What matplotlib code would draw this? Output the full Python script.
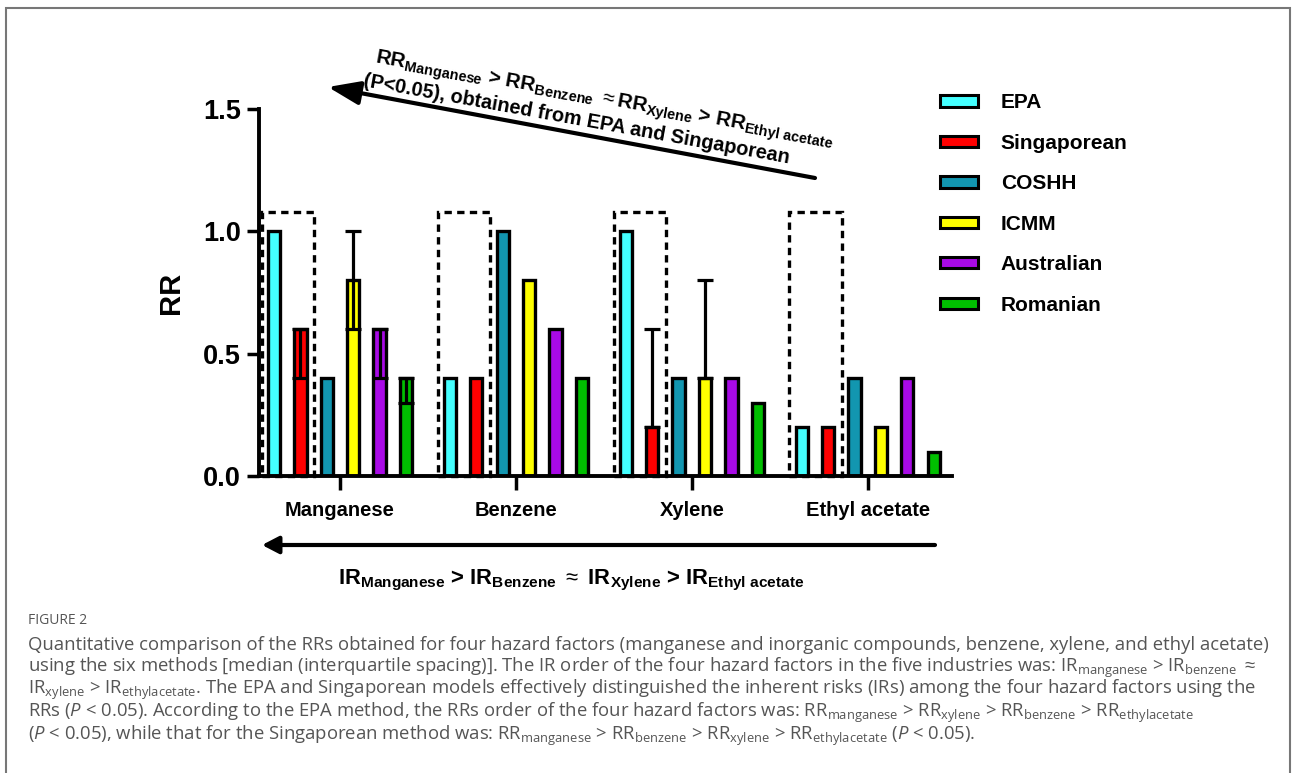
import numpy as np
import matplotlib
matplotlib.use("Agg")
from matplotlib import pyplot as plt
from matplotlib.patches import Patch, Rectangle

plt.rcParams['font.family'] = ['Liberation Sans', 'DejaVu Sans']
plt.rcParams['mathtext.fontset'] = 'custom'
plt.rcParams['mathtext.rm'] = 'Liberation Sans'
plt.rcParams['mathtext.bf'] = 'Liberation Sans:bold'
plt.rcParams['mathtext.sf'] = 'Open Sans'
plt.rcParams['mathtext.it'] = 'Open Sans:italic'

categories = ['Manganese', 'Benzene', 'Xylene', 'Ethyl acetate']
methods = ['EPA', 'Singaporean', 'COSHH', 'ICMM', 'Australian', 'Romanian']
colors = ['#44FFFF', '#FF0000', '#1296B0', '#FFFF00', '#A80AE6', '#00BF00']

# medians, one list per method (order follows categories)
median = {
    'EPA':         [1.0, 0.4, 1.0, 0.2],
    'Singaporean': [0.6, 0.4, 0.2, 0.2],
    'COSHH':       [0.4, 1.0, 0.4, 0.4],
    'ICMM':        [0.8, 0.8, 0.4, 0.2],
    'Australian':  [0.6, 0.6, 0.4, 0.4],
    'Romanian':    [0.4, 0.4, 0.3, 0.1],
}
# interquartile range
q1 = {
    'EPA':         [1.0, 0.4, 1.0, 0.2],
    'Singaporean': [0.4, 0.4, 0.2, 0.2],
    'COSHH':       [0.4, 1.0, 0.4, 0.4],
    'ICMM':        [0.6, 0.8, 0.4, 0.2],
    'Australian':  [0.4, 0.6, 0.4, 0.4],
    'Romanian':    [0.3, 0.4, 0.3, 0.1],
}
q3 = {
    'EPA':         [1.0, 0.4, 1.0, 0.2],
    'Singaporean': [0.6, 0.4, 0.6, 0.2],
    'COSHH':       [0.4, 1.0, 0.4, 0.4],
    'ICMM':        [1.0, 0.8, 0.8, 0.2],
    'Australian':  [0.6, 0.6, 0.4, 0.4],
    'Romanian':    [0.4, 0.4, 0.3, 0.1],
}

fig = plt.figure(figsize=(12.92, 7.73), dpi=100)
ax = fig.add_axes([0.2005, 0.3842, 0.5365, 0.4748])

x = np.arange(len(categories))
step = 0.15
width = 0.07
for i, m in enumerate(methods):
    pos = x + (i - 2.5) * step
    ax.bar(pos, median[m], width, color=colors[i], edgecolor='black', linewidth=2.4, zorder=2)
    lo = np.array(median[m]) - np.array(q1[m])
    hi = np.array(q3[m]) - np.array(median[m])
    has = (np.array(q3[m]) - np.array(q1[m])) > 0
    if has.any():
        ax.errorbar(pos[has], np.array(median[m])[has], yerr=[lo[has], hi[has]], fmt='none',
                    ecolor='black', elinewidth=2.3, capsize=6, capthick=2.3, zorder=3)

# dashed boxes around EPA and Singaporean bars
for c in x:
    ax.add_patch(Rectangle((c - 0.445, 0), 0.3, 1.08, fill=False, edgecolor='black',
                           linestyle=(0, (2.2, 1.6)), linewidth=2.4, zorder=4, clip_on=False))

ax.set_xlim(-0.46, 3.48)
ax.set_ylim(0, 1.5)
ax.set_yticks([0.0, 0.5, 1.0, 1.5])
ax.set_yticklabels(['0.0', '0.5', '1.0', '1.5'], fontsize=19.5, fontweight='bold')
ax.set_xticks(x)
ax.set_xticklabels(categories, fontsize=14.5, fontweight='bold')
ax.tick_params(axis='x', length=10, width=2.5, pad=8)
ax.tick_params(axis='y', length=9, width=2.5, pad=4)
ax.set_ylabel('RR', fontsize=21, fontweight='bold', labelpad=13)
for s in ['top', 'right']:
    ax.spines[s].set_visible(False)
for s in ['left', 'bottom']:
    ax.spines[s].set_linewidth(2.8)

handles = [Patch(facecolor=colors[i], edgecolor='black', linewidth=2.2) for i in range(len(methods))]
ax.legend(handles, methods, loc='upper left', bbox_to_anchor=(930 / 1292, 1 - 83 / 773),
          bbox_transform=fig.transFigure, frameon=False, prop={'size': 15, 'weight': 'bold'},
          handlelength=1.8, handleheight=0.45, handletextpad=1.1, labelspacing=1.03, borderpad=0)

# top arrow and note
ax.annotate('', xy=(328, 773 - 87), xytext=(815, 773 - 178), xycoords='figure pixels',
            textcoords='figure pixels',
            arrowprops=dict(arrowstyle='-|>,head_length=0.97,head_width=0.36', lw=3,
                            color='black', mutation_scale=20, shrinkA=0, shrinkB=0))
rot = -10.3
fig.text(375, 773 - 63, r'RR$_{\mathbf{Manganese}}$ > RR$_{\mathbf{Benzene}}$ $\approx$RR$_{\mathbf{Xylene}}$ > RR$_{\mathbf{Ethyl\ acetate}}$',
         transform=None, fontsize=14.8, fontweight='bold', rotation=rot, rotation_mode='anchor',
         ha='left', va='baseline')
fig.text(363, 773 - 86, '(P<0.05), obtained from EPA and Singaporean',
         transform=None, fontsize=14.3, fontweight='bold', rotation=rot, rotation_mode='anchor',
         ha='left', va='baseline')

# bottom arrow and note
ax.annotate('', xy=(262, 773 - 545), xytext=(935, 773 - 545), xycoords='figure pixels',
            textcoords='figure pixels',
            arrowprops=dict(arrowstyle='-|>,head_length=0.5,head_width=0.26', lw=3,
                            color='black', mutation_scale=20, shrinkA=0, shrinkB=0))
fig.text(571, 773 - 580, r'IR$_{\mathbf{Manganese}}$ > IR$_{\mathbf{Benzene}}$ $\approx$ IR$_{\mathbf{Xylene}}$ > IR$_{\mathbf{Ethyl\ acetate}}$',
         transform=None, fontsize=15.8, fontweight='bold', ha='center', va='center')

# frame
fig.patches.append(Rectangle((6, -20), 1284, 773 - 8 + 20, transform=None, fill=False,
                             edgecolor='#777777', linewidth=1.5))

# caption
cap = dict(transform=None, fontsize=13.3, color='#555555', family='Open Sans', ha='left', va='center')
fig.text(28, 773 - 620, 'FIGURE 2', transform=None, fontsize=10, color='#555555',
         family='Open Sans', ha='left', va='center')
lines = [
    'Quantitative comparison of the RRs obtained for four hazard factors (manganese and inorganic compounds, benzene, xylene, and ethyl acetate)',
    r'using the six methods [median (interquartile spacing)]. The IR order of the four hazard factors in the five industries was: IR$_{\mathsf{manganese}}$ > IR$_{\mathsf{benzene}}$ $\approx$',
    r'IR$_{\mathsf{xylene}}$ > IR$_{\mathsf{ethylacetate}}$. The EPA and Singaporean models effectively distinguished the inherent risks (IRs) among the four hazard factors using the',
    r'RRs ($\mathit{P}$ < 0.05). According to the EPA method, the RRs order of the four hazard factors was: RR$_{\mathsf{manganese}}$ > RR$_{\mathsf{xylene}}$ > RR$_{\mathsf{benzene}}$ > RR$_{\mathsf{ethylacetate}}$',
    r'($\mathit{P}$ < 0.05), while that for the Singaporean method was: RR$_{\mathsf{manganese}}$ > RR$_{\mathsf{benzene}}$ > RR$_{\mathsf{xylene}}$ > RR$_{\mathsf{ethylacetate}}$ ($\mathit{P}$ < 0.05).',
]
for k, ln in enumerate(lines):
    fig.text(28, 773 - (645 + 22.6 * k), ln, **cap)

fig.savefig('out.png', dpi=100)
